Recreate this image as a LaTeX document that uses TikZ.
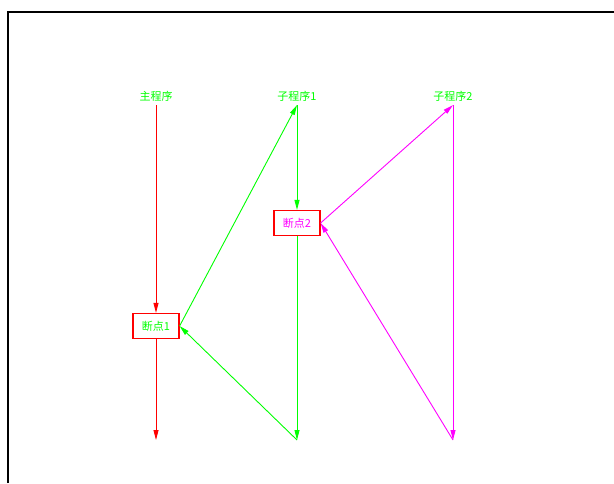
\documentclass[tikz,border=0pt]{standalone}
\usepackage{fontspec}
\newfontfamily\cjk{Noto Sans CJK SC}
\usetikzlibrary{arrows.meta}
\definecolor{cadgreen}{RGB}{0,255,0}
\definecolor{cadmagenta}{RGB}{255,0,255}
\definecolor{cadred}{RGB}{255,0,0}

\begin{document}
\begin{tikzpicture}[x=1pt,y=-1pt,
prog/.style={text=cadgreen,font=\cjk\fontsize{11}{13}\selectfont,inner sep=2pt,outer sep=2pt},
brk/.style={draw=cadred,line width=1.2pt,minimum width=46pt,minimum height=25pt,inner sep=0pt,font=\cjk\fontsize{11}{13}\selectfont},
arr/.style={line width=0.9pt,-{Triangle[length=10pt,width=5pt]}}]

\useasboundingbox (0,0) rectangle (614,483);
\draw[line width=2pt] (8,483) -- (8,12) -- (614,12);

\node[prog] (main) at (156,96) {主程序};
\node[prog] (sub1) at (297,96) {子程序1};
\node[prog] (sub2) at (453,96) {子程序2};
\node[brk,text=cadgreen] (bp1) at (156,326) {断点1};
\node[brk,text=cadmagenta] (bp2) at (297,223) {断点2};
\coordinate (end0) at (156,440);
\coordinate (end1) at (297,440);
\coordinate (end2) at (453,440);

\draw[cadred,arr] (main) -- (bp1);
\draw[cadred,arr] (bp1) -- (end0);
\draw[cadgreen,arr] (bp1.east) -- (sub1.south);
\draw[cadgreen,arr] (sub1) -- (bp2);
\draw[cadgreen,arr] (bp2) -- (end1);
\draw[cadgreen,arr] (end1) -- (bp1.east);
\draw[cadmagenta,arr] (bp2.east) -- (sub2.south);
\draw[cadmagenta,arr] (sub2) -- (end2);
\draw[cadmagenta,arr] (end2) -- (bp2.east);

\end{tikzpicture}
\end{document}
